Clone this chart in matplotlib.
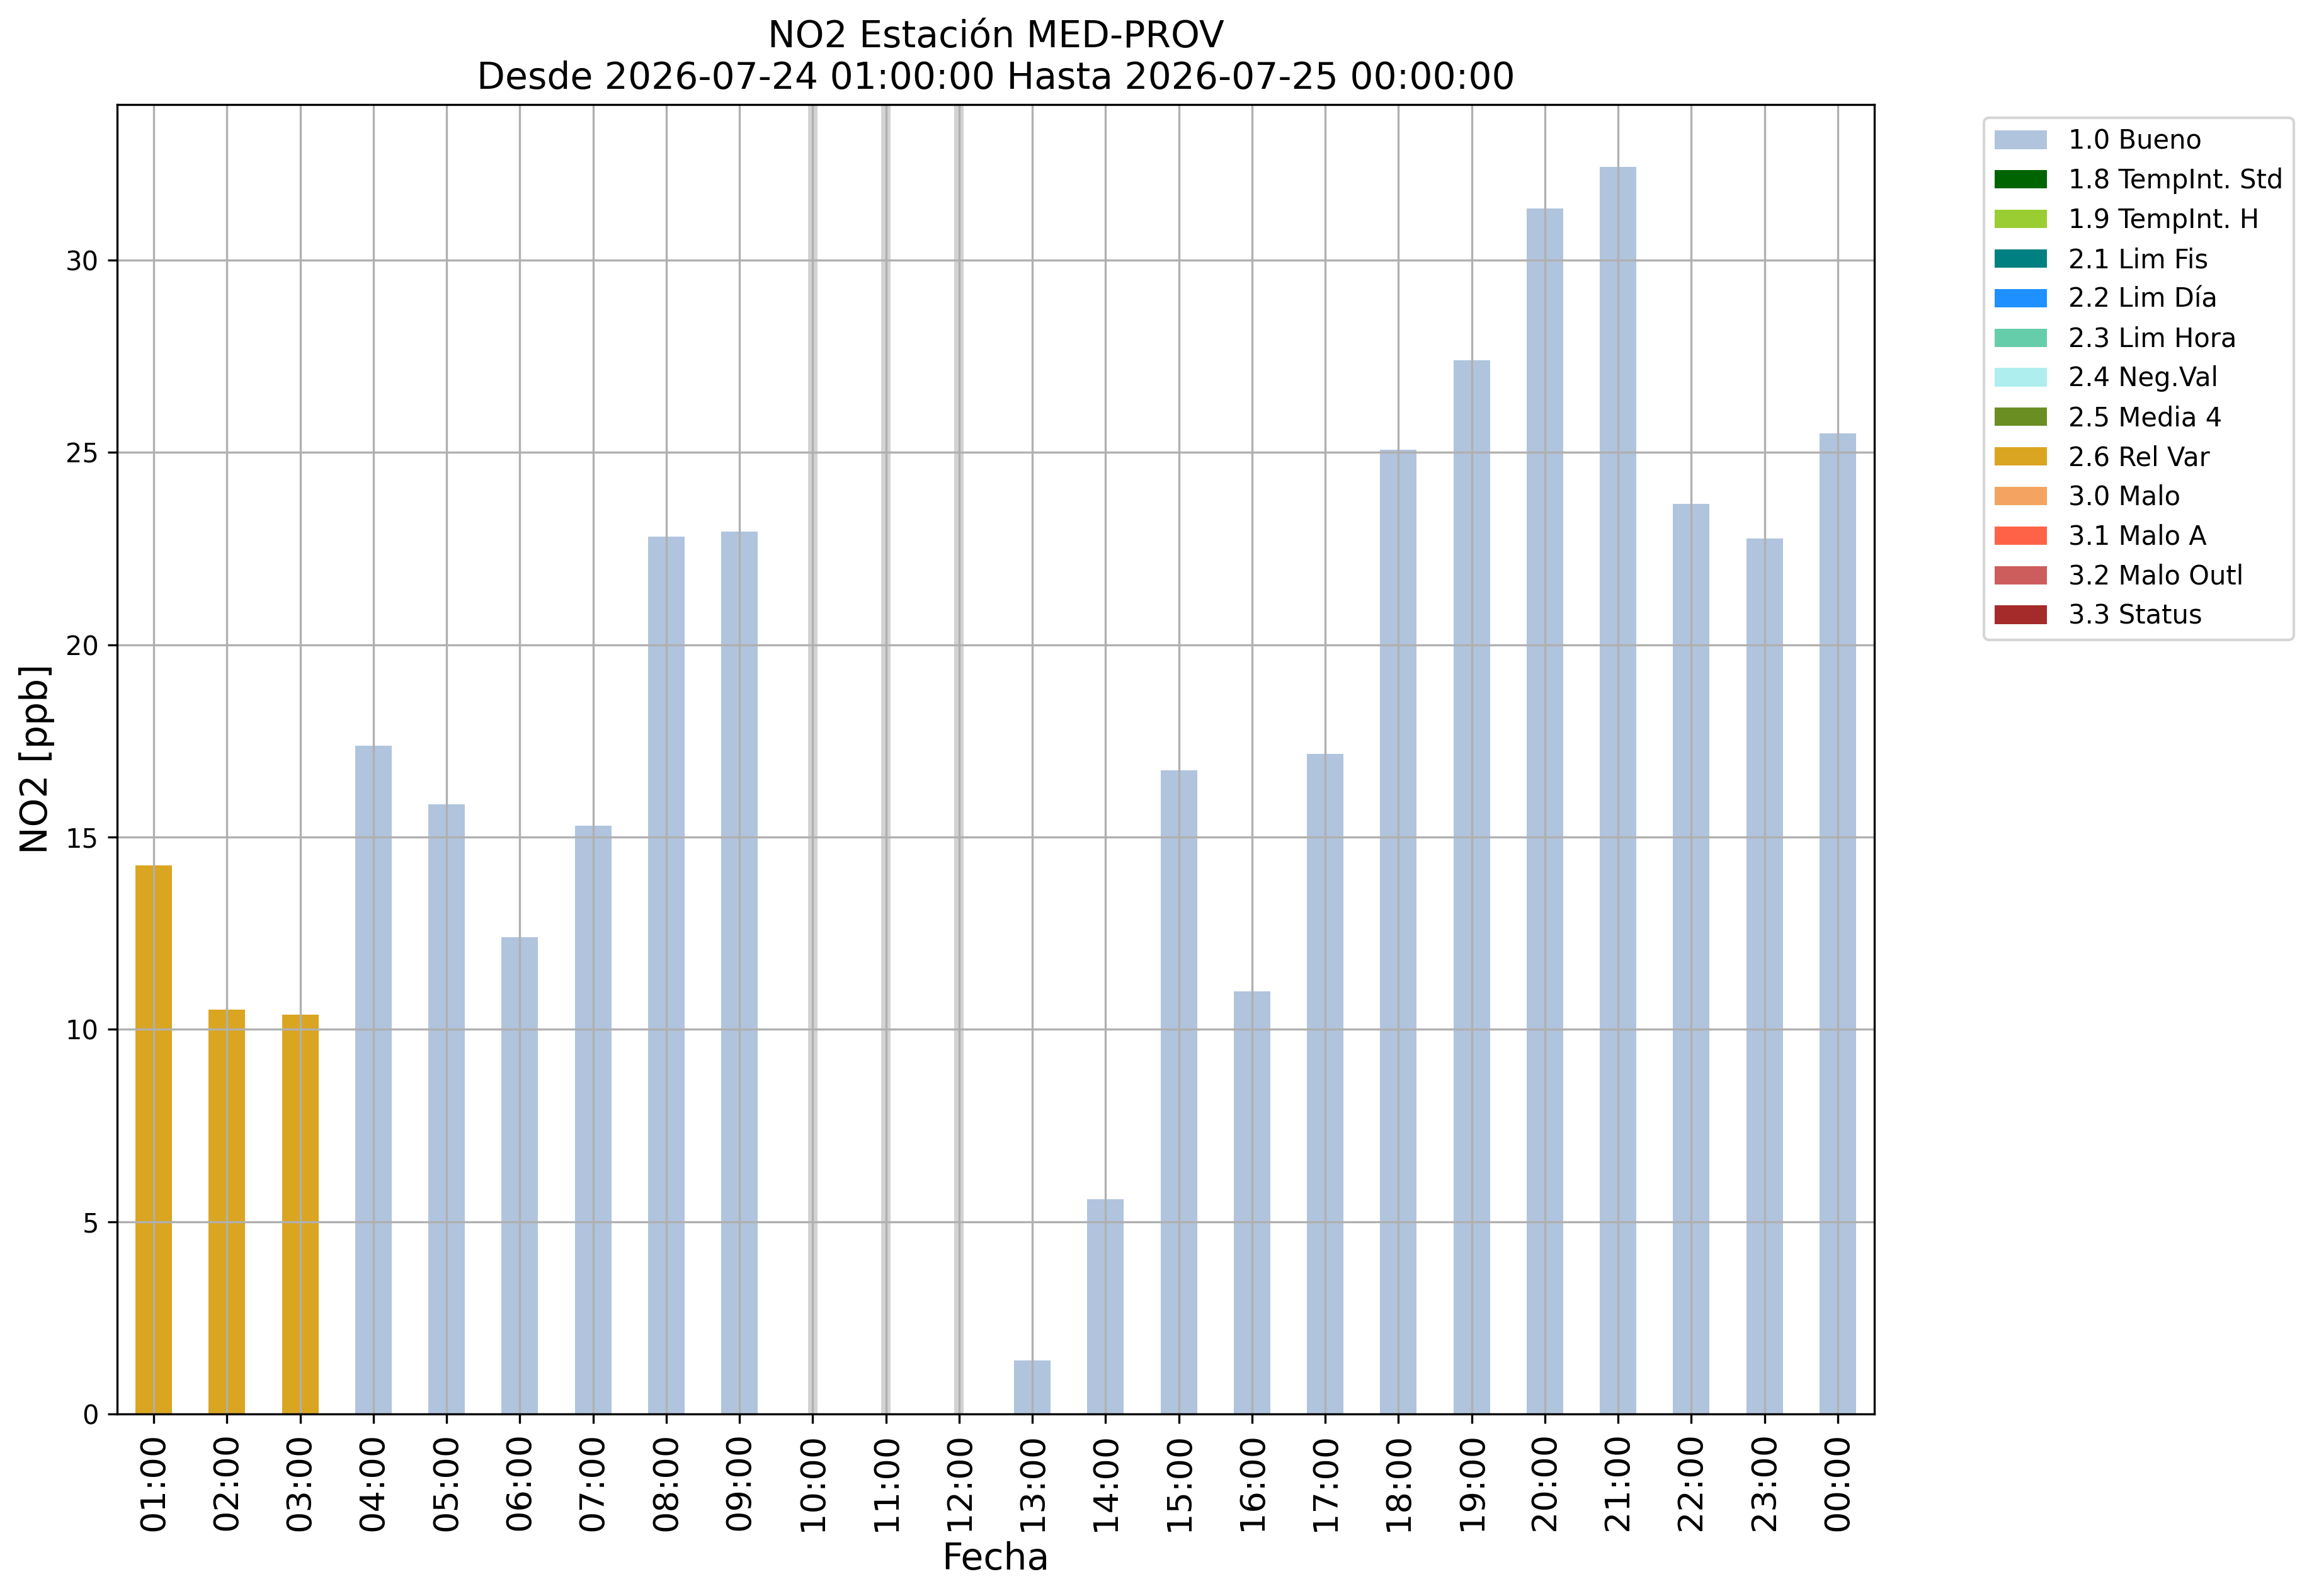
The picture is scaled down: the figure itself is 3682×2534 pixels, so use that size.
import numpy as np
import matplotlib
matplotlib.use("Agg")
import matplotlib.pyplot as plt
from matplotlib.patches import Patch

# ---- data ----
hours = ['01:00', '02:00', '03:00', '04:00', '05:00', '06:00', '07:00', '08:00',
         '09:00', '10:00', '11:00', '12:00', '13:00', '14:00', '15:00', '16:00',
         '17:00', '18:00', '19:00', '20:00', '21:00', '22:00', '23:00', '00:00']
no2 = [14.26, 10.51, 10.38, 17.38, 15.85, 12.40, 15.29, 22.81,
       22.94, np.nan, np.nan, np.nan, 1.39, 5.59, 16.74, 10.98,
       17.16, 25.07, 27.39, 31.34, 32.42, 23.66, 22.76, 25.50]
flags = ['2.6', '2.6', '2.6', '1.0', '1.0', '1.0', '1.0', '1.0',
         '1.0', None, None, None, '1.0', '1.0', '1.0', '1.0',
         '1.0', '1.0', '1.0', '1.0', '1.0', '1.0', '1.0', '1.0']

legend_codes = ['1.0', '1.8', '1.9', '2.1', '2.2', '2.3', '2.4', '2.5', '2.6',
                '3.0', '3.1', '3.2', '3.3']
legend_names = ['Bueno', 'TempInt. Std', 'TempInt. H', 'Lim Fis', 'Lim Día',
                'Lim Hora', 'Neg.Val', 'Media 4', 'Rel Var', 'Malo', 'Malo A',
                'Malo Outl', 'Status']
legend_colors = ['lightsteelblue', 'darkgreen', 'yellowgreen', 'teal', 'dodgerblue',
                 'mediumaquamarine', 'paleturquoise', 'olivedrab', 'goldenrod',
                 'sandybrown', 'tomato', 'indianred', 'brown']

title_text = "NO2 Estación MED-PROV\nDesde 2026-07-24 01:00:00 Hasta 2026-07-25 00:00:00"

# ---- plot ----
color_map = dict(zip(legend_codes, legend_colors))

fig = plt.figure(figsize=(3682 / 300, 2534 / 300), dpi=300)
ax = fig.add_axes([186 / 3682, 1 - 2245 / 2534, (2976 - 186) / 3682, (2245 - 166) / 2534])

x = np.arange(len(hours))
vals = np.array(no2, dtype=float)
valid = ~np.isnan(vals)
ax.bar(x[valid], vals[valid], width=0.5,
       color=[color_map[f] for f, v in zip(flags, valid) if v], zorder=1)

for xi, v in zip(x, valid):
    if not v:
        ax.axvspan(xi - 0.065, xi + 0.065, color='lightgray', zorder=1, lw=0)

ax.set_xlim(-0.5, len(hours) - 0.5)
ax.set_ylim(0, np.nanmax(vals) * 1.05)
ax.set_xticks(x)
ax.set_xticklabels(hours, rotation=90, fontsize=13)
ax.tick_params(axis='y', labelsize=10)
ax.grid(True, color='#b0b0b0', linewidth=0.8)

ax.set_title(title_text, fontsize=14)
ax.set_xlabel('Fecha', fontsize=14)
ax.set_ylabel('NO2 [ppb]', fontsize=14)

handles = [Patch(facecolor=c, label=f"{code} {name}")
           for code, name, c in zip(legend_codes, legend_names, legend_colors)]
ax.legend(handles=handles, loc='upper left', bbox_to_anchor=(1.055, 1), fontsize=10)

fig.savefig('out.png', dpi=300)
